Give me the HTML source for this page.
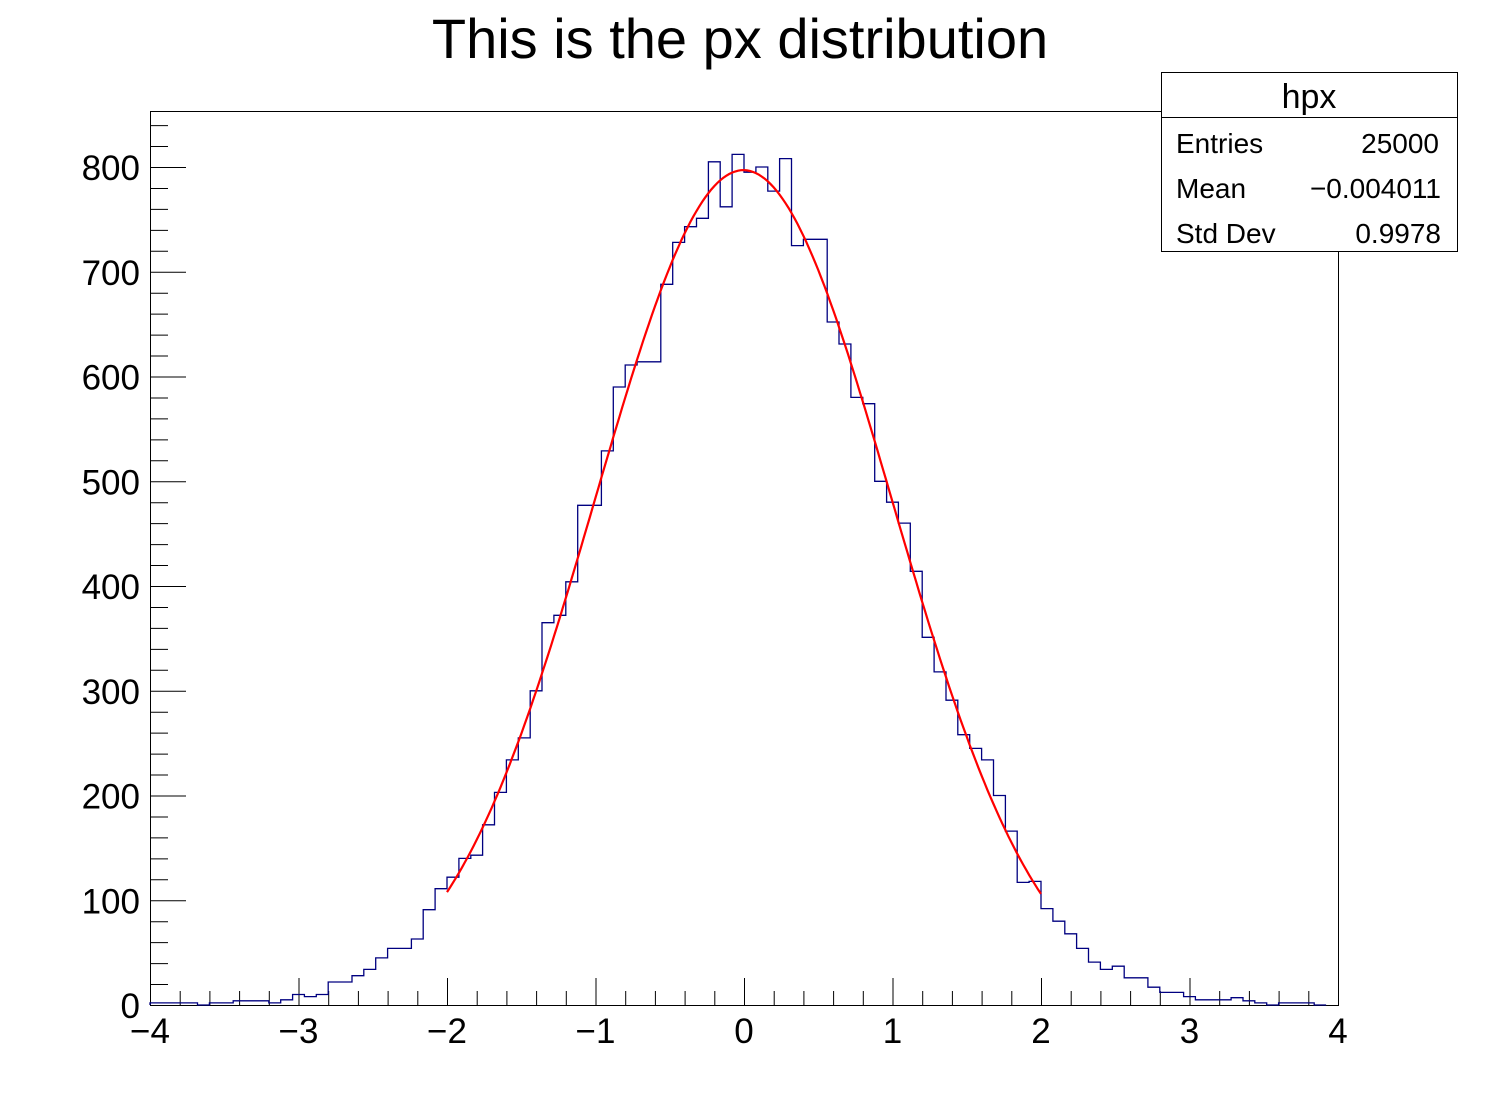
<!DOCTYPE html>
<html><head><meta charset="utf-8"><style>
html,body{margin:0;padding:0;background:#fff;}
svg{display:block;}
text{font-family:"Liberation Sans",sans-serif;fill:#000;}
</style></head><body>
<svg id="s" width="1488" height="1116" xmlns="http://www.w3.org/2000/svg">
<rect width="1488" height="1116" fill="#fff"/>
<text x="740" y="58" font-size="56" text-anchor="middle">This is the px distribution</text>
<rect x="150.5" y="111.5" width="1188" height="894" fill="none" stroke="#000" stroke-width="1"/>
<g id="ax" stroke="#000" stroke-width="1"></g>
<g id="lab" font-size="35"></g>
<path id="h" fill="none" stroke="#000080" stroke-width="1.3"/>
<polyline id="f" fill="none" stroke="#ff0000" stroke-width="2.2"/>
<rect x="1161.5" y="72.5" width="296" height="179" fill="#fff" stroke="#000" stroke-width="1"/>
<line x1="1161.5" y1="117.5" x2="1457.5" y2="117.5" stroke="#000"/>
<text x="1309" y="108" font-size="34" text-anchor="middle">hpx</text>
<text x="1176" y="153" font-size="28">Entries</text>
<text x="1439" y="153" font-size="28" text-anchor="end">25000</text>
<text x="1176" y="198" font-size="28">Mean</text>
<text x="1441" y="198" font-size="28" text-anchor="end">−0.004011</text>
<text x="1176" y="243" font-size="28">Std Dev</text>
<text x="1441" y="243" font-size="28" text-anchor="end">0.9978</text>
</svg>
<script>
var X0=150,SX=148.5,Y0=1005,SY=1.0475;
var v=[2,2,2,2,0,2,2,4,4,4,2,5,10,8,10,22,22,28,34,45,54,54,63,91,111,122,140,143,172,203,234,255,300,365,372,404,477,477,529,590,611,614,614,688,728,743,751,
805,762,812,795,800,777,808,725,731,731,
652,631,580,574,500,480,460,414,351,318,291,258,245,234,200,166,117,118,92,80,68,54,41,34,37,26,26,17,12,12,8,5,5,5,7,4,2,0,2,2,2,0];
var bw=SX*0.08,d="M"+X0+","+Y0;
for(var i=0;i<100;i++){var y=(Y0-v[i]*SY).toFixed(1);var x1=(X0+i*bw).toFixed(1),x2=(X0+(i+1)*bw).toFixed(1);d+=" L"+x1+","+y+" L"+x2+","+y;}
d+=" L1338,"+Y0;
document.getElementById('h').setAttribute('d',d);
var p=[];for(var x=-2;x<=2.0001;x+=0.02){p.push((X0+(x+4)*SX).toFixed(1)+","+(Y0-797*Math.exp(-Math.pow(x+0.004,2)/(2*0.9978*0.9978))*SY).toFixed(1));}
document.getElementById('f').setAttribute('points',p.join(' '));
var ax="",lab="";
for(var k=0;k<=40;k++){var x=X0+k*SX*0.2+0.5;var L=(k%5==0)?27:14;ax+='<line x1="'+x+'" y1="1005" x2="'+x+'" y2="'+(1005-L)+'"/>';}
for(var k=-4;k<=4;k++){lab+='<text x="'+(X0+(k+4)*SX)+'" y="1043" text-anchor="middle">'+(k<0?'−'+(-k):k)+'</text>';}
for(var c=0;c<=850;c+=20){var y=Y0-c*SY+0.5;var L=(c%100==0)?36:18;ax+='<line x1="150" y1="'+y+'" x2="'+(150+L)+'" y2="'+y+'"/>';}
for(var c=0;c<=800;c+=100){lab+='<text x="140" y="'+(Y0-c*SY+13)+'" text-anchor="end">'+c+'</text>';}
document.getElementById('ax').innerHTML=ax;
document.getElementById('lab').innerHTML=lab;
</script>
</body></html>
